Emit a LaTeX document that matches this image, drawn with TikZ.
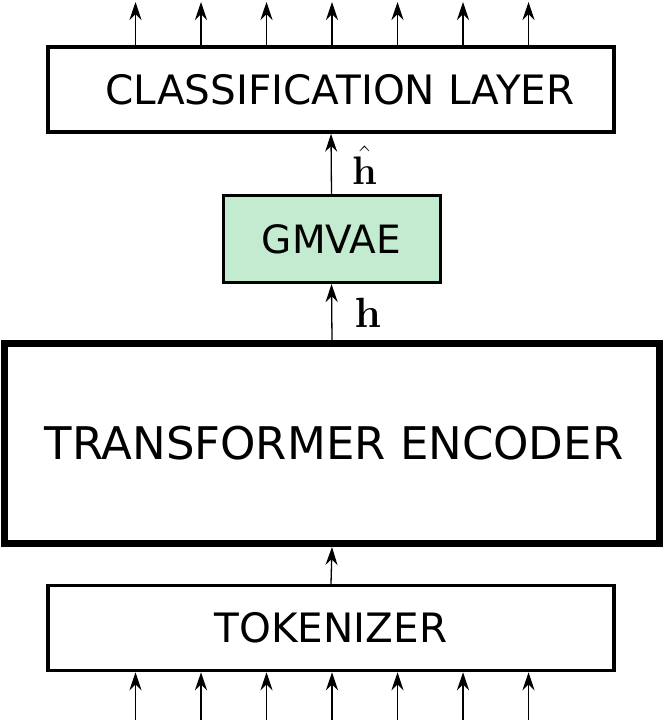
\documentclass[tikz,border=0pt]{standalone}
\usepackage{graphicx}
\usepackage[no-math]{fontspec}
\setmainfont{DejaVu Sans}
\usetikzlibrary{positioning,calc,arrows.meta}
\definecolor{gmgreen}{RGB}{195,235,208}
\tikzset{
	layer/.style={draw, line width=3.5pt, minimum width=566pt, minimum height=85pt,
		inner sep=0pt, font=\fontsize{40.5}{44}\selectfont},
	flow/.style={-{Stealth[length=18pt,width=12pt]}, line width=1.3pt},
	vec/.style={anchor=base west, inner sep=0pt, font=\Huge},
}

\begin{document}
\begin{tikzpicture}[x=1pt, y=-1pt]
		\useasboundingbox (0,0) rectangle (664,723);
		\node[layer] (cls) at (331,89.5) {\hspace*{18pt}CLASSIFICATION LAYER};
		\node[layer, fill=gmgreen, line width=3pt, minimum width=217pt, minimum height=87pt,
			font=\fontsize{39}{43}\selectfont] (gm) at (331.5,239) {GMVAE};
		\node[layer, line width=7pt, minimum width=655pt, minimum height=200pt,
			font=\fontsize{45}{49}\selectfont] (enc) at (332,443.5) {\hspace*{4pt}TRANSFORMER ENCODER};
		\node[layer] (tok) at (331,628) {TOKENIZER};

		% inputs and outputs
		\foreach \i in {0,...,6} {
			\coordinate (in\i) at (135.5+65.5*\i,720);
			\coordinate (out\i) at (135.5+65.5*\i,2);
			\draw[flow] (in\i) -- (in\i |- tok.south);
			\draw[flow] (out\i |- cls.north) -- (out\i);
		}

		\draw[flow] (tok.north) -- (enc.south);
		\draw[flow] (enc.north) -- (gm.south)
			node[vec, pos=0.23, xshift=22pt] {\scalebox{1.7}{$\mathbf{h}$}};
		\draw[flow] (gm.north) -- (cls.south)
			node[vec, pos=0.16, xshift=20pt] {\scalebox{1.6}{$\hat{\mathbf{h}}$}};
	\end{tikzpicture}
\end{document}
